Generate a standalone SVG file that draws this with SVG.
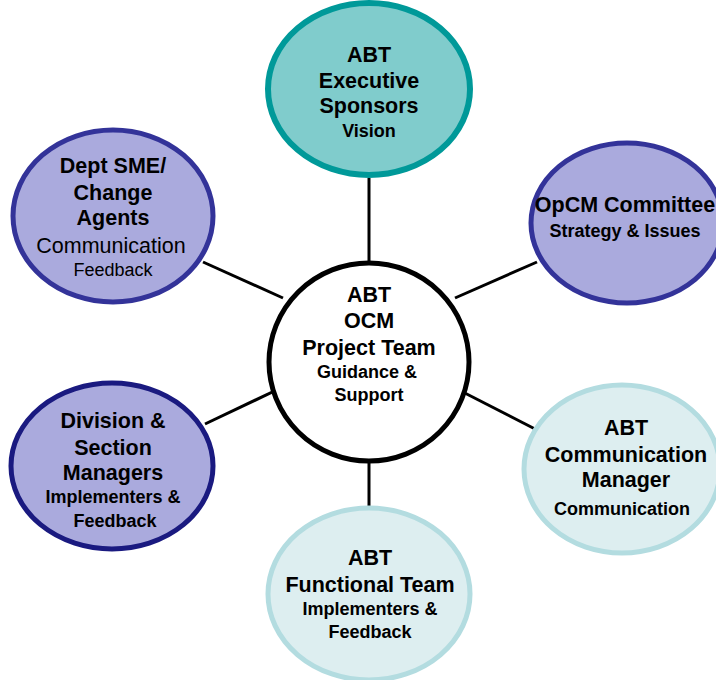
<svg xmlns="http://www.w3.org/2000/svg" width="716" height="680" viewBox="0 0 716 680">
  <style>
    text { font-family: "Liberation Sans", Arial, sans-serif; text-anchor: middle; fill: #000; }
    .b { font-weight: bold; }
    .big { font-size: 21.5px; }
    .sm { font-size: 18px; }
    .teal { fill: #80CCCC; stroke: #009999; stroke-width: 6; }
    .lav { fill: #AAAADD; stroke: #333399; stroke-width: 5; }
    .lav2 { fill: #AAAADD; stroke: #1A1A80; stroke-width: 5; }
    .pale { fill: #DDEEF0; stroke: #B3DCE0; stroke-width: 5; }
    .hub { fill: #FFFFFF; stroke: #000000; stroke-width: 5; }
    .link { stroke: #000; stroke-width: 3; fill: none; }
  </style>
  <rect width="716" height="680" fill="#FFFFFF"/>

  <!-- spokes from the hub to each outer node -->
  <g id="connectors">
    <line class="link" x1="369" y1="178" x2="369" y2="264"/>
    <line class="link" x1="369" y1="460" x2="369" y2="508"/>
    <line class="link" x1="203" y1="262" x2="283" y2="298"/>
    <line class="link" x1="455" y1="298" x2="537" y2="262"/>
    <line class="link" x1="205" y1="424" x2="285" y2="386"/>
    <line class="link" x1="455" y1="388" x2="537" y2="430"/>
  </g>

  <g id="exec-sponsors">
    <ellipse class="teal" cx="369" cy="89" rx="101" ry="86"/>
    <text class="b big" x="369" y="62">ABT</text>
    <text class="b big" x="369" y="88">Executive</text>
    <text class="b big" x="369" y="113">Sponsors</text>
    <text class="b sm" x="369" y="137">Vision</text>
  </g>

  <g id="dept-sme">
    <ellipse class="lav" cx="113" cy="216" rx="100" ry="86"/>
    <text class="b big" x="113" y="173">Dept SME/</text>
    <text class="b big" x="113" y="200">Change</text>
    <text class="b big" x="113" y="225">Agents</text>
    <text class="big" x="111" y="253">Communication</text>
    <text class="sm" x="113" y="276">Feedback</text>
  </g>

  <g id="opcm-committee">
    <ellipse class="lav" cx="627" cy="223" rx="96" ry="80"/>
    <text class="b big" x="625" y="212">OpCM Committee</text>
    <text class="b sm" x="625" y="237">Strategy &amp; Issues</text>
  </g>

  <g id="project-team">
    <ellipse class="hub" cx="369" cy="362" rx="100" ry="99"/>
    <text class="b big" x="369" y="302">ABT</text>
    <text class="b big" x="369" y="328">OCM</text>
    <text class="b big" x="369" y="355">Project Team</text>
    <text class="b sm" x="367" y="378">Guidance &amp;</text>
    <text class="b sm" x="369" y="401">Support</text>
  </g>

  <g id="division-managers">
    <ellipse class="lav2" cx="112" cy="466" rx="101" ry="83"/>
    <text class="b big" x="113" y="428">Division &amp;</text>
    <text class="b big" x="113" y="455">Section</text>
    <text class="b big" x="113" y="480">Managers</text>
    <text class="b sm" x="113" y="503">Implementers &amp;</text>
    <text class="b sm" x="115" y="527">Feedback</text>
  </g>

  <g id="comm-manager">
    <ellipse class="pale" cx="622" cy="469" rx="98" ry="84"/>
    <text class="b big" x="626" y="435">ABT</text>
    <text class="b big" x="626" y="462">Communication</text>
    <text class="b big" x="626" y="487">Manager</text>
    <text class="b sm" x="622" y="515">Communication</text>
  </g>

  <g id="functional-team">
    <ellipse class="pale" cx="369" cy="594" rx="101" ry="86"/>
    <text class="b big" x="370" y="565">ABT</text>
    <text class="b big" x="370" y="592">Functional Team</text>
    <text class="b sm" x="370" y="615">Implementers &amp;</text>
    <text class="b sm" x="370" y="638">Feedback</text>
  </g>
</svg>
